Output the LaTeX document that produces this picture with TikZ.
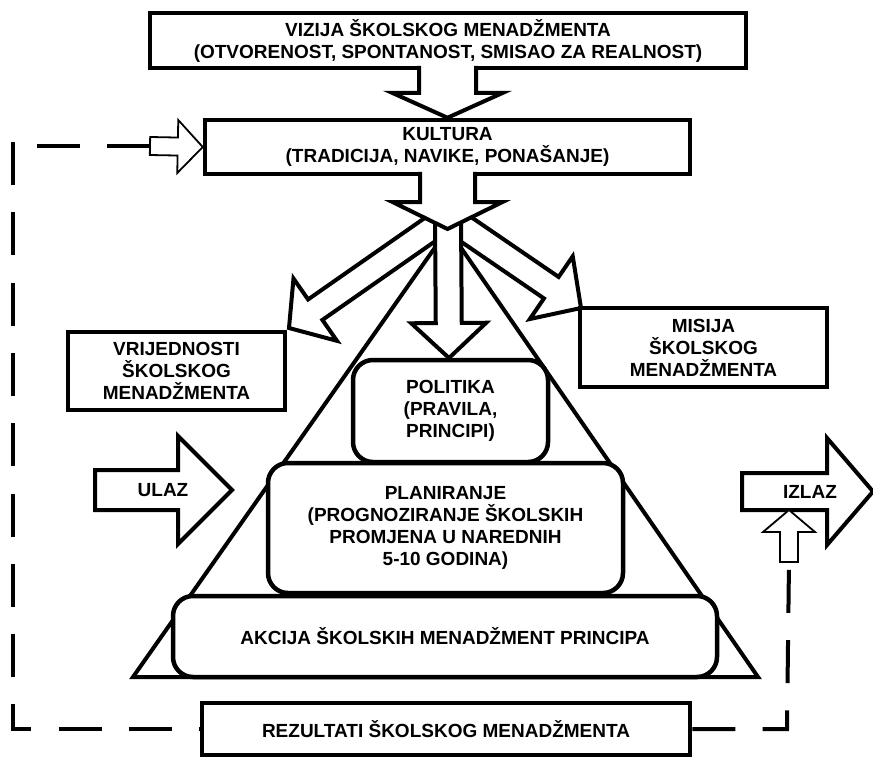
\documentclass[tikz,border=0pt]{standalone}
\usepackage{fontspec}
\setmainfont{Liberation Sans}
\usetikzlibrary{calc}
\tikzset{
  txt/.style={font=\bfseries\fontsize{19}{22}\selectfont},
  box/.style={draw, line width=4.5pt, fill=white, inner sep=0pt, align=center, txt},
  rbox/.style={box, rounded corners=20pt},
  barrow/.style={line width=4pt, line join=miter},
  harrow/.style={line width=1.8pt, line join=miter},
  dashline/.style={line width=4pt, line join=miter, dash pattern=on 43pt off 27.3pt},
  lbl/.style={txt, inner sep=0pt},
}
% open block arrow: #1 style, #2 tail, #3 tip, #4 shaft half width, #5 head half width, #6 head length
\newcommand\openarrow[6]{%
  \coordinate (hbase) at ($(#3)!#6!(#2)$);
  \fill[white] ($(#2)!#4!90:(#3)$) -- ($(hbase)!#4!90:(#3)$) -- ($(hbase)!#5!90:(#3)$) -- (#3)
     -- ($(hbase)!#5!-90:(#3)$) -- ($(hbase)!#4!-90:(#3)$) -- ($(#2)!#4!-90:(#3)$) -- cycle;
  \draw[#1] ($(#2)!#4!90:(#3)$) -- ($(hbase)!#4!90:(#3)$) -- ($(hbase)!#5!90:(#3)$) -- (#3)
     -- ($(hbase)!#5!-90:(#3)$) -- ($(hbase)!#4!-90:(#3)$) -- ($(#2)!#4!-90:(#3)$);
}
\newcommand\closedarrow[6]{%
  \coordinate (hbase) at ($(#3)!#6!(#2)$);
  \draw[#1, fill=white] ($(#2)!#4!90:(#3)$) -- ($(hbase)!#4!90:(#3)$) -- ($(hbase)!#5!90:(#3)$) -- (#3)
     -- ($(hbase)!#5!-90:(#3)$) -- ($(hbase)!#4!-90:(#3)$) -- ($(#2)!#4!-90:(#3)$) -- cycle;
}
\begin{document}
\begin{tikzpicture}[x=1pt,y=-1pt]
\fill[white] (0,0) rectangle (873,758);
\useasboundingbox (0,0) rectangle (873,758);

% pyramid
\coordinate (apex) at (448,229);
\coordinate (bl) at (133,677);
\coordinate (br) at (758,677);
\draw[line width=4pt, line join=miter] (apex) -- (bl) -- (br) -- cycle;

\node[rbox, minimum width=195pt, minimum height=102pt] (politika) at (450.5,411)
  {POLITIKA\\(PRAVILA,\\PRINCIPI)};
\node[rbox, minimum width=355pt, minimum height=130pt] (plan) at (445.5,528)
  {PLANIRANJE\\(PROGNOZIRANJE ŠKOLSKIH\\PROMJENA U NAREDNIH\\5-10 GODINA)};
\node[rbox, minimum width=544pt, minimum height=81pt] (akcija) at (445,636.5)
  {AKCIJA ŠKOLSKIH MENADŽMENT PRINCIPA};

% fan of arrows from the culture arrow
\coordinate (o) at (448,217);
\coordinate (vtip) at (289,328);
\coordinate (mtip) at (581,308);
\coordinate (ptip) at (449,358);
\openarrow{barrow}{o}{vtip}{12.5pt}{38pt}{32pt}
\openarrow{barrow}{o}{mtip}{13pt}{38pt}{36pt}
\openarrow{barrow}{o}{ptip}{13pt}{37.5pt}{35pt}

% top boxes
\node[box, minimum width=596pt, minimum height=55pt] (vizija) at (448,40.5)
  {VIZIJA ŠKOLSKOG MENADŽMENTA\\(OTVORENOST, SPONTANOST, SMISAO ZA REALNOST)};
\node[box, minimum width=485pt, minimum height=54pt] (kultura) at (447.5,147)
  {KULTURA\\(TRADICIJA, NAVIKE, PONAŠANJE)};

\coordinate (va) at (447.5,65.8);
\openarrow{barrow}{va}{kultura.north}{28.5pt}{55.5pt}{25pt}
\coordinate (ka) at (447.5,171.8);
\coordinate (kb) at (447.5,229);
\openarrow{barrow}{ka}{kb}{27.5pt}{55pt}{27pt}

% side boxes
\node[box, minimum width=217pt, minimum height=78pt] (vrij) at (176.5,371)
  {VRIJEDNOSTI\\ŠKOLSKOG\\MENADŽMENTA};
\node[box, minimum width=247pt, minimum height=79pt] (misija) at (703.5,347.5)
  {MISIJA\\ŠKOLSKOG\\MENADŽMENTA};

% results
\node[box, minimum width=488pt, minimum height=52pt] (rez) at (446,729)
  {REZULTATI ŠKOLSKOG MENADŽMENTA};

% input / output arrows
\coordinate (ua) at (95,490);
\coordinate (ub) at (232,490);
\closedarrow{barrow}{ua}{ub}{20pt}{54pt}{54pt}
\node[lbl] (ulaz) at (163,490) {ULAZ};

\coordinate (ia) at (742,491.5);
\coordinate (ib) at (873,491.5);
\closedarrow{barrow}{ia}{ib}{18.5pt}{53.5pt}{46pt}
\node[lbl] (izlaz) at (810,492) {IZLAZ};

% feedback hollow arrows
\coordinate (ha) at (150,146);
\closedarrow{harrow}{ha}{kultura.west}{9pt}{26.5pt}{25pt}
\coordinate (upa) at (789,562);
\coordinate (upb) at (789,510);
\closedarrow{harrow}{upa}{upb}{9pt}{26pt}{22pt}

% dashed feedback loop
\coordinate (ct) at (13,146);
\coordinate (cl2) at (13,142);
\coordinate (cl1) at (13,729);
\coordinate (cr1) at (787,729);
\draw[dashline] (ha) -- (ct);
\draw[dashline] (cl2) -- (cl1) -- (rez.west);
\draw[dashline] (rez.east) -- (cr1) -- (upa);
\end{tikzpicture}
\end{document}
